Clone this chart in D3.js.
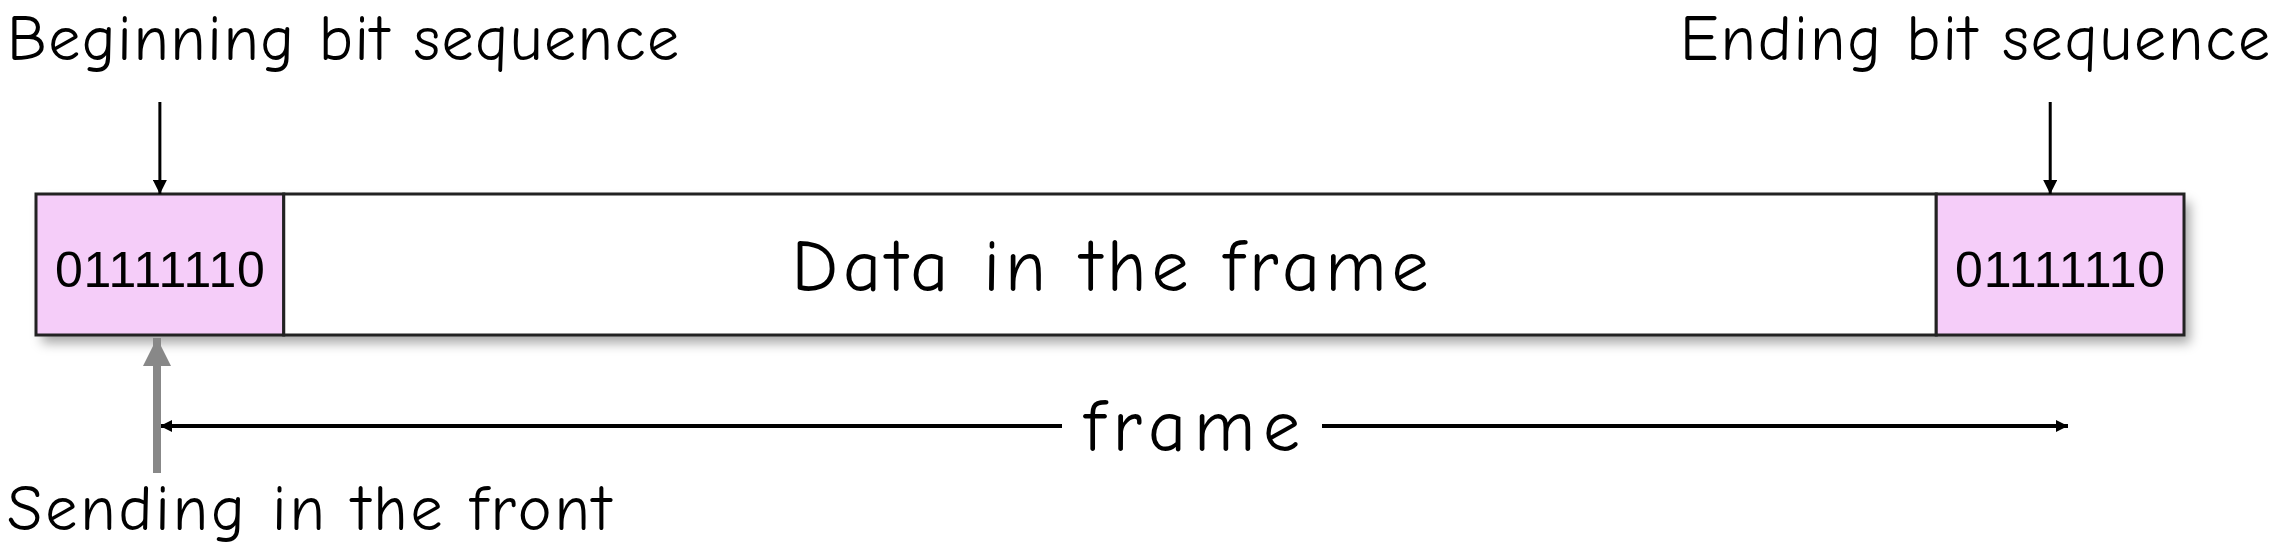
<!DOCTYPE html>
<html>
<head>
<meta charset="utf-8">
<script src="https://cdn.jsdelivr.net/npm/d3@7"></script>
<style>
  body { margin: 0; background: #fff; }
  svg { display: block; }
</style>
</head>
<body>
<script>
// frame fields, widths in relative units
let fields = ["01111110", "Data in the frame", "01111110"];
let fieldUnits = [1, 6.67, 1];
let fieldFill = ["#f5cdf9", "#ffffff", "#f5cdf9"];
let topLabels = ["Beginning bit sequence", "Ending bit sequence"];
let bottomLabel = "Sending in the front";
let spanLabel = "frame";

let W = 2276, H = 552;
let hand = "'Comic Sans MS', 'Comic Neue', 'Chalkboard', cursive";
let svg = d3.select("body").append("svg").attr("width", W).attr("height", H);

let defs = svg.append("defs");
let f = defs.append("filter").attr("id", "shadow").attr("x", "-5%").attr("y", "-30%").attr("width", "110%").attr("height", "170%");
f.append("feDropShadow").attr("dx", 6).attr("dy", 8).attr("stdDeviation", 6).attr("flood-color", "#000").attr("flood-opacity", 0.35);
defs.append("marker").attr("id", "ah").attr("viewBox", "0 0 10 10")
  .attr("refX", 10).attr("refY", 5).attr("markerWidth", 14).attr("markerHeight", 12)
  .attr("markerUnits", "userSpaceOnUse").attr("orient", "auto")
  .append("path").attr("d", "M0,0 L10,5 L0,10 z").attr("fill", "#000");
defs.append("marker").attr("id", "ahv").attr("viewBox", "0 0 10 10")
  .attr("refX", 10).attr("refY", 5).attr("markerWidth", 28).attr("markerHeight", 14)
  .attr("markerUnits", "userSpaceOnUse").attr("orient", "auto")
  .append("path").attr("d", "M0,0 L10,5 L0,10 z").attr("fill", "#000");
defs.append("marker").attr("id", "ahg").attr("viewBox", "0 0 10 10")
  .attr("refX", 10).attr("refY", 5).attr("markerWidth", 50).attr("markerHeight", 28)
  .attr("markerUnits", "userSpaceOnUse").attr("orient", "auto")
  .append("path").attr("d", "M0,0 L10,5 L0,10 z").attr("fill", "#888");

let starts = fieldUnits.map((d, i) => d3.sum(fieldUnits.slice(0, i)));
let sx = d3.scaleLinear().domain([0, d3.sum(fieldUnits)]).range([36, 2184]);
let boxTop = 194, boxBot = 335;

let g = svg.append("g");
g.append("rect").attr("x", sx(0)).attr("y", boxTop).attr("width", sx.range()[1] - sx(0))
  .attr("height", boxBot - boxTop).attr("fill", "#fff").attr("filter", "url(#shadow)");
let cells = g.selectAll("g.cell").data(fields).enter().append("g").attr("class", "cell");
cells.append("rect")
  .attr("x", (d, i) => sx(starts[i])).attr("y", boxTop)
  .attr("width", (d, i) => sx(starts[i] + fieldUnits[i]) - sx(starts[i]))
  .attr("height", boxBot - boxTop)
  .attr("fill", (d, i) => fieldFill[i]).attr("stroke", "#222").attr("stroke-width", 3);
cells.append("text")
  .attr("x", (d, i) => sx(starts[i] + fieldUnits[i] / 2))
  .attr("y", (d, i) => i == 1 ? 291 : 287)
  .attr("text-anchor", "middle")
  .attr("font-family", (d, i) => i == 1 ? hand : "Liberation Sans, Arial, sans-serif")
  .attr("font-size", (d, i) => i == 1 ? 74 : 50)
  .attr("textLength", (d, i) => i == 1 ? 637 : 210)
  .text(d => d);

// top labels + arrows
let ax = [sx(starts[0] + fieldUnits[0] * 0.5), sx(starts[2] + fieldUnits[2] * 0.46)];
svg.selectAll("text.top").data(topLabels).enter().append("text")
  .attr("x", (d, i) => i == 0 ? 7 : 2270).attr("y", 60)
  .attr("text-anchor", (d, i) => i == 0 ? "start" : "end")
  .attr("font-family", hand).attr("font-size", 64)
  .attr("textLength", (d, i) => i == 0 ? 672 : 590)
  .text(d => d);
svg.selectAll("line.down").data(ax).enter().append("line")
  .attr("x1", d => d).attr("x2", d => d).attr("y1", 102).attr("y2", boxTop)
  .attr("stroke", "#000").attr("stroke-width", 3).attr("marker-end", "url(#ahv)");

// frame span arrow
let fy = 426, fx0 = 160, fx1 = 2068, gapL = 1062, gapR = 1322;
svg.append("line").attr("x1", gapL).attr("x2", fx0).attr("y1", fy).attr("y2", fy)
  .attr("stroke", "#000").attr("stroke-width", 4).attr("marker-end", "url(#ah)");
svg.append("line").attr("x1", gapR).attr("x2", fx1).attr("y1", fy).attr("y2", fy)
  .attr("stroke", "#000").attr("stroke-width", 4).attr("marker-end", "url(#ah)");
svg.append("text").attr("x", 1192).attr("y", 451).attr("text-anchor", "middle")
  .attr("font-family", hand).attr("font-size", 74).attr("textLength", 216).text(spanLabel);

// sending arrow
svg.append("line").attr("x1", 157).attr("x2", 157).attr("y1", 473).attr("y2", 338)
  .attr("stroke", "#888").attr("stroke-width", 8).attr("marker-end", "url(#ahg)");
svg.append("text").attr("x", 7).attr("y", 530).attr("font-family", hand)
  .attr("font-size", 64).attr("textLength", 604).text(bottomLabel);
</script>
</body>
</html>
